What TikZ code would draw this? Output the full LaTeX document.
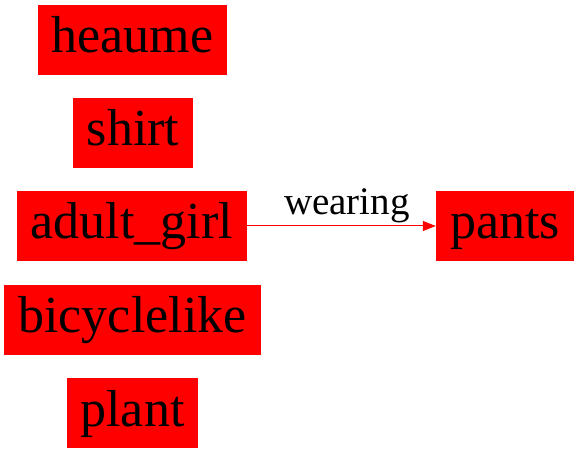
\documentclass[tikz,border=0pt]{standalone}
\usepackage{fontspec}
\setmainfont{Liberation Serif}
\usetikzlibrary{arrows.meta}
\begin{document}
\begin{tikzpicture}[x=1pt,y=1pt,
  box/.style={fill=red,draw=none,inner sep=0pt,minimum height=70pt,text height=36pt,text depth=10pt,font=\fontsize{52}{52}\selectfont,text=black},
  rel/.style={draw=red,line width=1pt,-{Triangle[length=13pt,width=10pt]}},
  lbl/.style={font=\fontsize{39}{39}\selectfont,text=black,inner sep=0pt}]
\useasboundingbox (0,0) rectangle (579,453);
\node[box,minimum width=189pt] (heaume) at (132.5,413) {heaume};
\node[box,minimum width=120pt] (shirt) at (133,320) {shirt};
\node[box,minimum width=230pt] (girl) at (132,227) {adult\_girl};
\node[box,minimum width=257pt] (bike) at (132.5,133) {bicyclelike};
\node[box,minimum width=131pt] (plant) at (132.5,40) {plant};
\node[box,minimum width=138pt] (pants) at (505,227) {pants};
\draw[rel] (girl.east) -- (pants.west);
\node[lbl,anchor=base] (wl) at (347,238) {wearing};
\end{tikzpicture}
\end{document}
